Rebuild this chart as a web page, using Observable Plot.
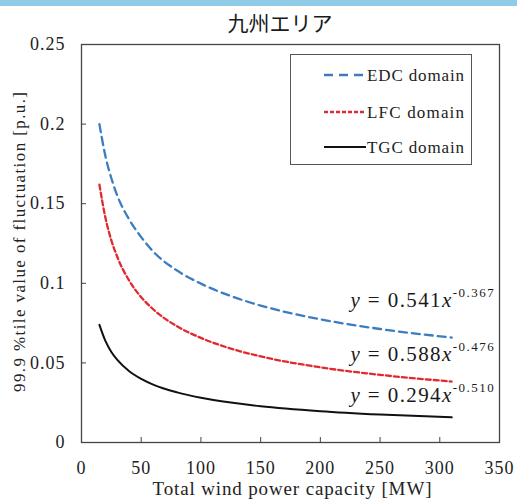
<!DOCTYPE html>
<html><head><meta charset="utf-8">
<script src="https://cdn.jsdelivr.net/npm/d3@7"></script>
<script src="https://cdn.jsdelivr.net/npm/@observablehq/plot@0.6"></script>
<style>
body{margin:0;background:#fff;width:517px;height:500px;position:relative;overflow:hidden;font-family:"Liberation Serif","Times New Roman",serif;}
#band{position:absolute;left:0;top:0;width:517px;height:6px;background:#8ecbe8;}
#title{position:absolute;left:180px;width:200px;top:8px;text-align:center;font-family:"Noto Sans CJK JP",sans-serif;font-size:21px;color:#1a1a1a;line-height:28px;}
#chart{position:absolute;left:0;top:0;}
#legend{position:absolute;left:290px;top:54px;width:182px;height:111px;border:1px solid #555;background:#fff;box-sizing:border-box;}
</style></head>
<body>
<div id="chart"></div>
<div id="band"></div>
<div id="title">九州エリア</div>
<div id="legend"></div>
<script>
// ---- data ----
const capacity = [15, 20, 25, 30, 40, 50, 60, 80, 100, 125, 150, 200, 250, 310];
const edcValues = [0.200, 0.180, 0.166, 0.155, 0.140, 0.129, 0.120, 0.108, 0.0998, 0.0920, 0.0860, 0.0774, 0.0713, 0.0659];
const lfcValues = [0.162, 0.1413, 0.127, 0.1165, 0.1016, 0.0913, 0.0837, 0.0730, 0.0657, 0.0590, 0.0541, 0.0472, 0.0425, 0.0383];
const tgcValues = [0.0739, 0.0638, 0.0569, 0.0519, 0.0448, 0.0400, 0.0364, 0.0315, 0.0281, 0.0251, 0.0228, 0.0197, 0.0176, 0.0158];
const seriesNames = ["EDC domain", "LFC domain", "TGC domain"];
const eqCoef = ["0.541", "0.588", "0.294"];
const eqExp = ["-0.367", "-0.476", "-0.510"];
const eqLevel = [0.0892, 0.0553, 0.0295];
const xTicks = [0, 50, 100, 150, 200, 250, 300, 350];
const yTicks = [0, 0.05, 0.1, 0.15, 0.2, 0.25];
const xTitle = "Total wind power capacity [MW]";
const yTitle = "99.9 %tile value of fluctuation [p.u.]";

const seriesStyle = {
  "EDC domain": {stroke: "#3c7dbf", dash: "8,5", width: 2.3},
  "LFC domain": {stroke: "#e02a30", dash: "5,3", width: 2.3},
  "TGC domain": {stroke: "#111111", dash: null, width: 2}
};
const allValues = [edcValues, lfcValues, tgcValues];
const rows = [];
seriesNames.forEach((s, i) => capacity.forEach((x, j) => rows.push({series: s, x, y: allValues[i][j]})));
const eqs = eqCoef.map((c, i) => ({coef: c, exp: eqExp[i], y: eqLevel[i]}));
const serif = '"Liberation Serif","Times New Roman",serif';

const svg = Plot.plot({
  width: 517, height: 500,
  marginLeft: 81, marginRight: 18, marginTop: 44, marginBottom: 58,
  x: {domain: [0, 350]},
  y: {domain: [0, 0.25]},
  style: {fontFamily: serif, fontSize: "18px", color: "#222", background: "transparent", letterSpacing: "1px"},
  marks: [
    Plot.axisX({ticks: xTicks, tickSize: 0, tickPadding: 19, tickFormat: d => String(d), label: null}),
    Plot.axisX({ticks: xTicks, tickSize: 5, dy: -5, fill: "none", stroke: "#444", label: null}),
    Plot.axisY({ticks: yTicks, tickSize: 0, tickPadding: 16, tickFormat: d => String(d), label: null}),
    Plot.axisY({ticks: yTicks, tickSize: 5, dx: 5, fill: "none", stroke: "#444", label: null}),
    ...seriesNames.map(s => Plot.line(rows.filter(r => r.series === s), {
      x: "x", y: "y", curve: "monotone-x",
      stroke: seriesStyle[s].stroke, strokeWidth: seriesStyle[s].width,
      strokeDasharray: seriesStyle[s].dash
    })),
    Plot.frame({stroke: "#444", strokeWidth: 1.3}),
    Plot.text(eqs, {x: 346.5, y: "y", text: "coef", textAnchor: "end", fontSize: 21, fill: "#1a1a1a"})
  ]
});
document.getElementById("chart").appendChild(svg);

d3.select(svg).selectAll('g[aria-label="text"] text').each(function () {
  const t = d3.select(this);
  const e = eqs.find(q => q.coef === t.text());
  if (!e) return;
  t.text(null).style("letter-spacing", "1.4px");
  t.append("tspan").attr("font-style", "italic").text("y");
  t.append("tspan").text(" = " + e.coef);
  t.append("tspan").attr("font-style", "italic").text("x");
  t.append("tspan").attr("font-size", 13).attr("dy", -10).style("letter-spacing", "1.5px").text(e.exp);
});

// axis titles
const titles = d3.select(svg).append("g").attr("font-family", serif).attr("fill", "#222").style("letter-spacing", "0px");
titles.append("text").attr("x", 292).attr("y", 495).attr("text-anchor", "middle").attr("font-size", 19)
  .attr("textLength", 279).attr("lengthAdjust", "spacing").text(xTitle);
titles.append("text").attr("transform", "translate(25,242) rotate(-90)").attr("text-anchor", "middle").attr("font-size", 17)
  .attr("textLength", 300).attr("lengthAdjust", "spacing").text(yTitle);

// legend
const lg = d3.select("#legend").append("svg").attr("width", 180).attr("height", 109);
const rowsY = [20, 57, 92];
seriesNames.forEach((s, i) => {
  const st = seriesStyle[s];
  const ln = lg.append("line").attr("x1", 33).attr("x2", 75).attr("y1", rowsY[i]).attr("y2", rowsY[i])
    .attr("stroke", st.stroke).attr("stroke-width", st.width);
  if (s === "EDC domain") ln.attr("stroke-dasharray", "9,6");
  if (s === "LFC domain") ln.attr("stroke-dasharray", "4,2");
  lg.append("text").attr("x", 76).attr("y", rowsY[i] + 6)
    .attr("font-family", serif).attr("font-size", 17)
    .attr("textLength", 97).attr("lengthAdjust", "spacing").attr("fill", "#222").text(s);
});
</script>
</body></html>
